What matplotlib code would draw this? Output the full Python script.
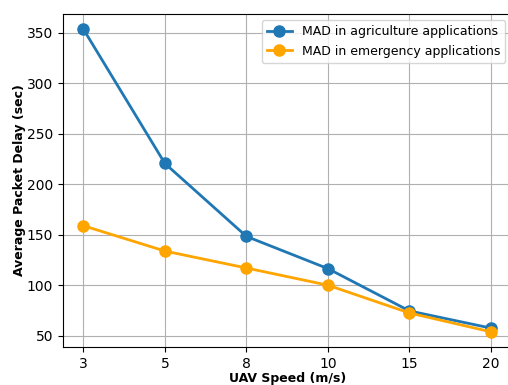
import numpy as np
import matplotlib
matplotlib.use("Agg")
import matplotlib.pyplot as plt

speeds = ["3", "5", "8", "10", "15", "20"]
agriculture = [353.5, 220.5, 148.3, 116.4, 74.5, 57.5]
emergency = [158.9, 133.8, 117.0, 100.0, 72.5, 53.8]

fig = plt.figure(figsize=(5.08, 3.85), dpi=100)
ax = fig.add_axes([63 / 508, 1 - 347 / 385, (511.4 - 63) / 508, (347 - 14) / 385])

x = np.arange(len(speeds))
ax.plot(x, agriculture, '-o', color='#1f77b4', linewidth=2, markersize=8,
        label="MAD in agriculture applications")
ax.plot(x, emergency, '-o', color='orange', linewidth=2, markersize=8,
        label="MAD in emergency applications")

ax.set_xticks(x)
ax.set_xticklabels(speeds)
ax.set_xlabel("UAV Speed (m/s)", fontweight='bold', fontsize=9, labelpad=1)
ax.set_ylabel("Average Packet Delay (sec)", fontweight='bold', fontsize=9, labelpad=1)
ax.grid(True)
ax.legend(loc='upper right', fontsize=9)

fig.savefig("out.png", dpi=100)
